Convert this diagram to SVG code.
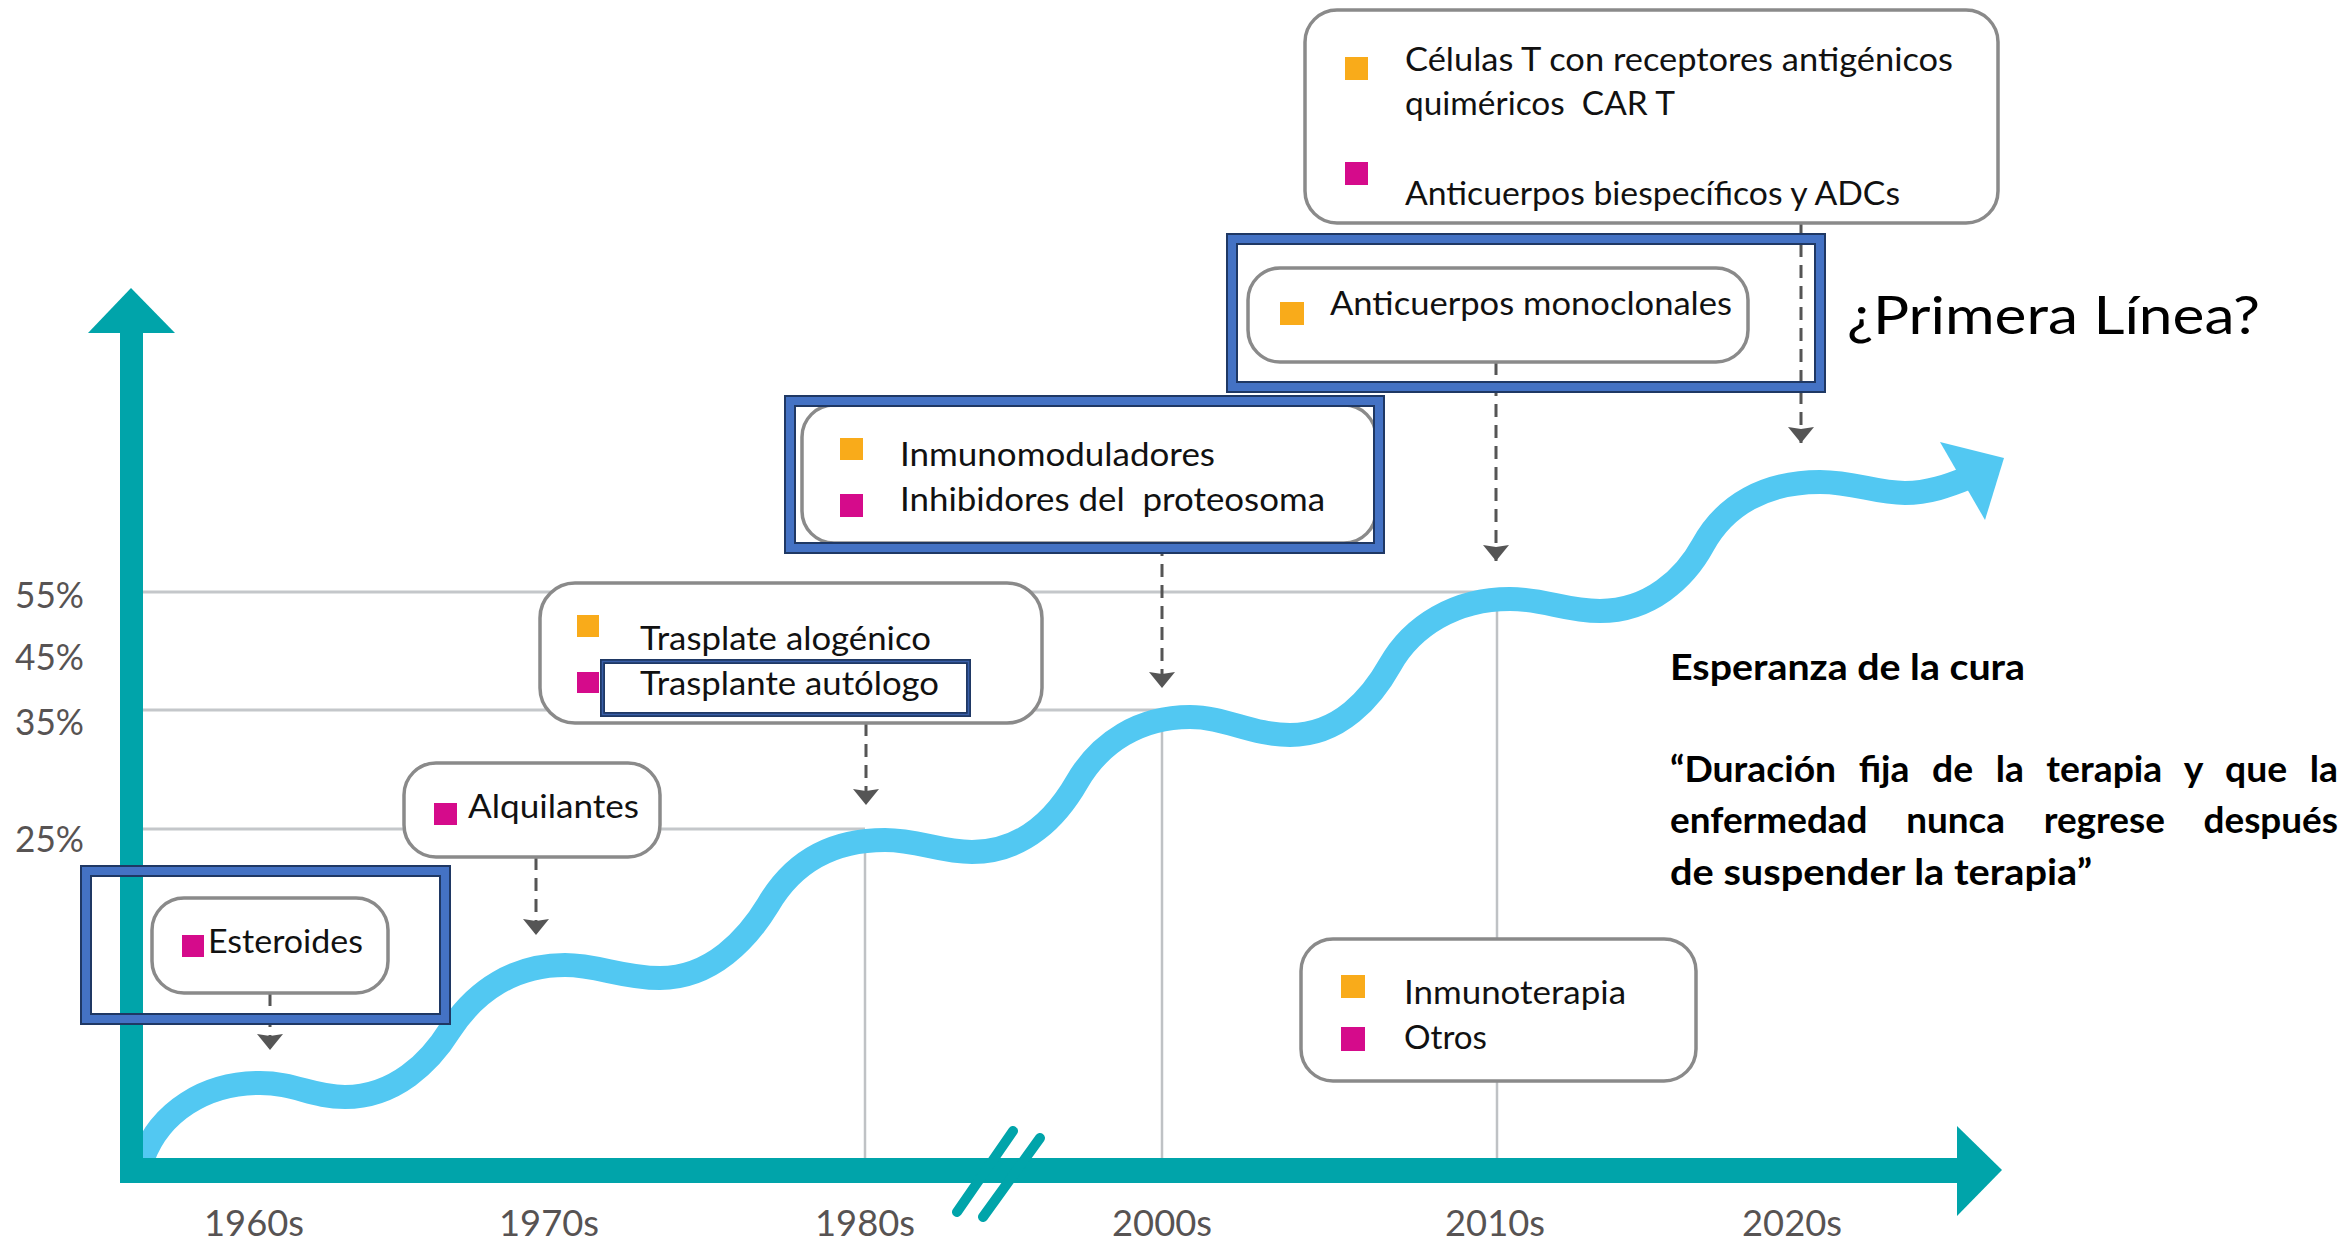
<svg xmlns="http://www.w3.org/2000/svg" width="2346" height="1243" viewBox="0 0 2346 1243">
<defs>
<style>
.box{fill:#fff;stroke:#8a8a8a;stroke-width:3.5}
.t{font-family:Lato,'Liberation Sans',sans-serif;font-size:32px;fill:#111;white-space:pre}
.ax{font-family:Lato,'Liberation Sans',sans-serif;font-size:36px;fill:#575353}
.grid{stroke:#c4c7ca;stroke-width:3;fill:none}
.vgrid{stroke:#bfc2c5;stroke-width:2.5;fill:none}
.conn{stroke:#555;stroke-width:3;stroke-dasharray:13 8;fill:none}
.hlo{fill:none;stroke:#1F3864;stroke-width:12}
.hli{fill:none;stroke:#4472C4;stroke-width:8}
.or{fill:#F9AB1A}
.pk{fill:#D50B8B}
.b{font-family:Lato,'Liberation Sans',sans-serif;font-size:36px;font-weight:bold;fill:#000}
.teal{fill:#00A4AA}
</style>
<marker id="ah" markerUnits="userSpaceOnUse" markerWidth="20" markerHeight="30" viewBox="-18 -15 20 30" refX="0" refY="0" orient="auto">
<path d="M0,0 L-16,-13 L-14,0 L-16,13 Z" fill="#555"/>
</marker>
</defs>
<rect width="2346" height="1243" fill="#fff"/>

<g id="grid">
<line class="grid" x1="143" y1="592" x2="1497" y2="592"/>
<line class="grid" x1="143" y1="710" x2="1162" y2="710"/>
<line class="grid" x1="143" y1="829" x2="865" y2="829"/>
<line class="vgrid" x1="865" y1="829" x2="865" y2="1158"/>
<line class="vgrid" x1="1162" y1="710" x2="1162" y2="1158"/>
<line class="vgrid" x1="1497" y1="592" x2="1497" y2="1158"/>
</g>

<g id="axis-labels">
<text class="ax" x="15" y="608" textLength="69" lengthAdjust="spacingAndGlyphs">55%</text>
<text class="ax" x="15" y="670" textLength="69" lengthAdjust="spacingAndGlyphs">45%</text>
<text class="ax" x="15" y="735" textLength="69" lengthAdjust="spacingAndGlyphs">35%</text>
<text class="ax" x="15" y="852" textLength="69" lengthAdjust="spacingAndGlyphs">25%</text>
<text class="ax" x="254" y="1236" text-anchor="middle" textLength="100" lengthAdjust="spacingAndGlyphs">1960s</text>
<text class="ax" x="549" y="1236" text-anchor="middle" textLength="100" lengthAdjust="spacingAndGlyphs">1970s</text>
<text class="ax" x="865" y="1236" text-anchor="middle" textLength="100" lengthAdjust="spacingAndGlyphs">1980s</text>
<text class="ax" x="1162" y="1236" text-anchor="middle" textLength="100" lengthAdjust="spacingAndGlyphs">2000s</text>
<text class="ax" x="1495" y="1236" text-anchor="middle" textLength="100" lengthAdjust="spacingAndGlyphs">2010s</text>
<text class="ax" x="1792" y="1236" text-anchor="middle" textLength="100" lengthAdjust="spacingAndGlyphs">2020s</text>
</g>

<g id="curve">
<path d="M143,1158 C160,1112 205,1083 260,1083 C295,1083 312,1097 345,1097 C395,1097 430,1062 450,1030 C476,990 515,965 565,965 C598,965 622,978 660,978 C712,978 748,938 768,905 C793,862 832,840 885,840 C918,840 940,852 972,852 C1025,852 1058,815 1077,782 C1100,742 1140,717 1190,717 C1225,717 1252,735 1290,735 C1340,735 1372,697 1390,665 C1412,626 1455,599 1510,599 C1545,599 1565,611 1600,611 C1650,611 1685,578 1703,545 C1725,505 1765,482 1820,482 C1855,482 1875,493 1905,493 C1928,493 1948,486 1970,477" fill="none" stroke="#52C8F2" stroke-width="24"/>
<polygon points="1940,442 2004,458 1985,520" fill="#52C8F2"/>
</g>

<g id="axes">
<rect class="teal" x="120" y="330" width="23" height="853"/>
<polygon class="teal" points="88,333 131,288 175,333"/>
<rect class="teal" x="120" y="1158" width="1840" height="25"/>
<polygon class="teal" points="1957,1126 2002,1170 1957,1216"/>
<line x1="957" y1="1212" x2="1013" y2="1131" stroke="#00A4AA" stroke-width="10" stroke-linecap="round"/>
<line x1="983" y1="1217" x2="1040" y2="1138" stroke="#00A4AA" stroke-width="10" stroke-linecap="round"/>
</g>

<g id="connectors">
<line class="conn" x1="270" y1="993" x2="270" y2="1050" marker-end="url(#ah)"/>
<line class="conn" x1="536" y1="857" x2="536" y2="935" marker-end="url(#ah)"/>
<line class="conn" x1="866" y1="723" x2="866" y2="805" marker-end="url(#ah)"/>
<line class="conn" x1="1162" y1="543" x2="1162" y2="688" marker-end="url(#ah)"/>
<line class="conn" x1="1496" y1="362" x2="1496" y2="561" marker-end="url(#ah)"/>
<line class="conn" x1="1801" y1="223" x2="1801" y2="443" marker-end="url(#ah)"/>
</g>

<g id="esteroides">
<rect class="box" x="152" y="898" width="236" height="95" rx="32"/>
<rect class="pk" x="182" y="935" width="22" height="22"/>
<text class="t" x="208" y="953" textLength="155" lengthAdjust="spacingAndGlyphs">Esteroides</text>
</g>

<g id="alquilantes">
<rect class="box" x="404" y="763" width="256" height="94" rx="32"/>
<rect class="pk" x="434" y="803" width="23" height="22"/>
<text class="t" x="468" y="818" textLength="171" lengthAdjust="spacingAndGlyphs">Alquilantes</text>
</g>

<g id="trasplante">
<rect class="box" x="540" y="583" width="502" height="140" rx="35"/>
<rect class="or" x="577" y="615" width="22" height="22"/>
<rect class="pk" x="577" y="672" width="22" height="21"/>
<text class="t" x="640" y="650" textLength="291" lengthAdjust="spacingAndGlyphs">Trasplate alogénico</text>
<text class="t" x="640" y="695" textLength="299" lengthAdjust="spacingAndGlyphs">Trasplante autólogo</text>
</g>

<g id="inmunomoduladores">
<rect class="box" x="802" y="405" width="574" height="138" rx="32"/>
<rect class="or" x="840" y="438" width="23" height="22"/>
<rect class="pk" x="840" y="494" width="23" height="23"/>
<text class="t" x="900" y="466" textLength="315" lengthAdjust="spacingAndGlyphs">Inmunomoduladores</text>
<text class="t" x="900" y="511" textLength="425" lengthAdjust="spacingAndGlyphs">Inhibidores del  proteosoma</text>
</g>

<g id="monoclonales">
<rect class="box" x="1248" y="268" width="500" height="94" rx="32"/>
<rect class="or" x="1280" y="302" width="24" height="23"/>
<text class="t" x="1330" y="315" textLength="402" lengthAdjust="spacingAndGlyphs">Anticuerpos monoclonales</text>
</g>

<g id="cart">
<rect class="box" x="1305" y="10" width="693" height="213" rx="32"/>
<rect class="or" x="1345" y="57" width="23" height="23"/>
<rect class="pk" x="1345" y="162" width="23" height="23"/>
<text class="t" x="1405" y="71" textLength="548" lengthAdjust="spacingAndGlyphs">Células T con receptores antigénicos</text>
<text class="t" x="1405" y="115" textLength="270" lengthAdjust="spacingAndGlyphs">quiméricos  CAR T</text>
<text class="t" x="1405" y="205" textLength="495" lengthAdjust="spacingAndGlyphs">Anticuerpos biespecíficos y ADCs</text>
</g>

<g id="leyenda">
<rect class="box" x="1301" y="939" width="395" height="142" rx="32"/>
<rect class="or" x="1341" y="975" width="24" height="23"/>
<rect class="pk" x="1341" y="1027" width="24" height="24"/>
<text class="t" x="1404" y="1004" textLength="222" lengthAdjust="spacingAndGlyphs">Inmunoterapia</text>
<text class="t" x="1404" y="1049" textLength="83" lengthAdjust="spacingAndGlyphs">Otros</text>
</g>

<g id="highlights">
<rect class="hlo" x="86" y="871" width="359" height="148"/>
<rect class="hli" x="86" y="871" width="359" height="148"/>
<rect class="hlo" x="790" y="401" width="589" height="147"/>
<rect class="hli" x="790" y="401" width="589" height="147"/>
<rect class="hlo" x="1232" y="239" width="588" height="148"/>
<rect class="hli" x="1232" y="239" width="588" height="148"/>
<rect x="602.5" y="661.5" width="366" height="53" fill="none" stroke="#1F3864" stroke-width="5"/>
<rect x="602.5" y="661.5" width="366" height="53" fill="none" stroke="#3A5FA8" stroke-width="1.5"/>
</g>

<g id="primera-linea">
<text x="1847" y="334" font-family="Lato,'Liberation Sans',sans-serif" font-size="53" fill="#000" textLength="413" lengthAdjust="spacingAndGlyphs">¿Primera Línea?</text>
</g>

<g id="esperanza">
<text class="b" x="1670" y="680" textLength="355" lengthAdjust="spacingAndGlyphs">Esperanza de la cura</text>
<text class="b" x="1670" y="782" word-spacing="13" textLength="668" lengthAdjust="spacingAndGlyphs">“Duración fija de la terapia y que la</text>
<text class="b" x="1670" y="833" word-spacing="29" textLength="668" lengthAdjust="spacingAndGlyphs">enfermedad nunca regrese después</text>
<text class="b" x="1670" y="885" textLength="422" lengthAdjust="spacingAndGlyphs">de suspender la terapia”</text>
</g>
</svg>
